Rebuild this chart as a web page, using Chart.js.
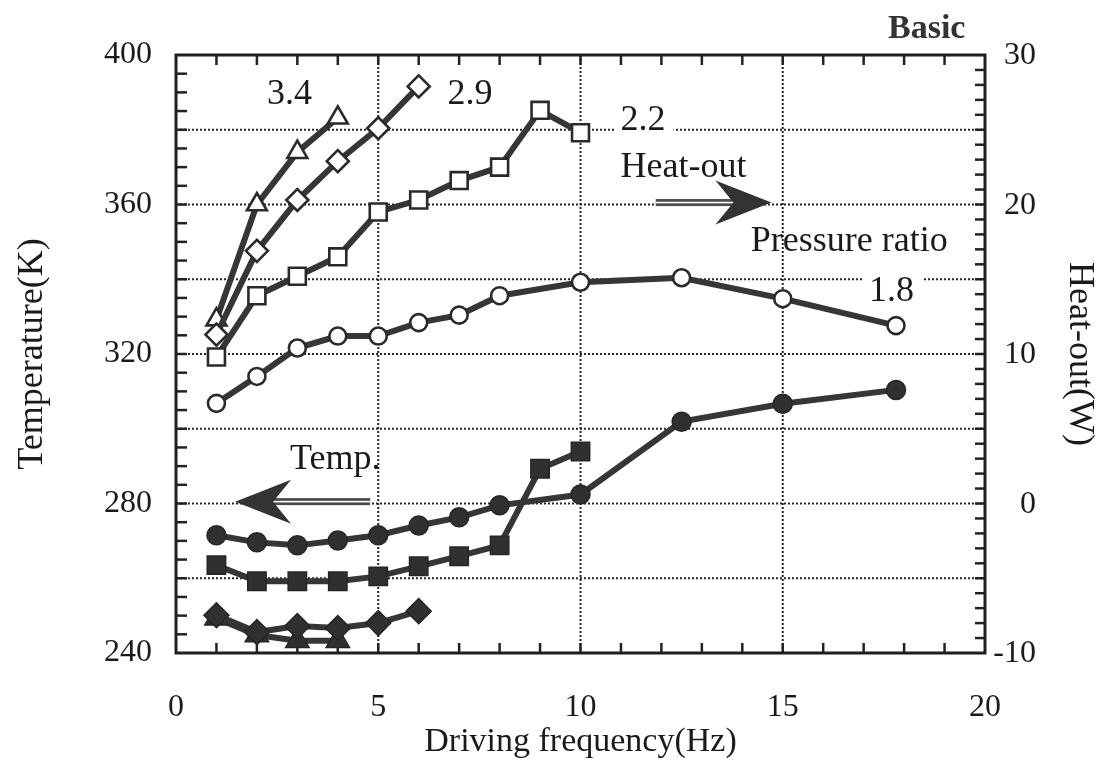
<!DOCTYPE html>
<html><head><meta charset="utf-8">
<script src="https://cdn.jsdelivr.net/npm/chart.js@4.4.1/dist/chart.umd.min.js"></script>
<style>html,body{margin:0;padding:0;background:#fff}#wrap{width:1104px;height:765px}</style>
</head><body><div id="wrap"><canvas id="c" width="1104" height="765"></canvas></div>
<script>
// ---- data ----
const freq18 = [1, 2, 3, 4, 5, 6, 7, 8, 10, 12.5, 15, 17.8];
const heat18 = [6.7, 8.5, 10.4, 11.2, 11.2, 12.1, 12.6, 13.9, 14.8, 15.1, 13.7, 11.9];
const temp18 = [271.5, 269.6, 268.8, 270.1, 271.5, 274.1, 276.3, 279.5, 282.4, 301.9, 306.7, 310.4];

const freq22 = [1, 2, 3, 4, 5, 6, 7, 8, 9, 10];
const heat22 = [9.8, 13.9, 15.2, 16.5, 19.5, 20.3, 21.6, 22.5, 26.3, 24.8];
const temp22 = [263.5, 259.2, 259.2, 259.2, 260.5, 263.2, 265.9, 268.8, 289.3, 293.9];

const freq29 = [1, 2, 3, 4, 5, 6];
const heat29 = [11.3, 16.9, 20.3, 22.9, 25.1, 27.9];
const temp29 = [250.1, 245.6, 247.2, 246.7, 248.0, 251.2];

const freq34 = [1, 2, 3, 4];
const heat34 = [12.3, 20.0, 23.5, 25.8];
const temp34 = [249.3, 244.8, 243.3, 243.3];

const xTicks = [0, 5, 10, 15, 20];
const tempTicks = [240, 280, 320, 360, 400];
const heatTicks = [-10, 0, 10, 20, 30];
const xGrid = [5, 10, 15];
const tempGrid = [260, 280, 300, 320, 340, 360, 380];

const SERIF = "'Liberation Serif','Times New Roman',serif";
const INK = '#1a1a1a';
const LINE = '#363636';
const FILL = '#303030';

function pts(xs, ys) { return xs.map((x, i) => ({ x: x, y: ys[i] })); }

function ds(xs, ys, axis, style, r, filled) {
  return {
    data: pts(xs, ys), yAxisID: axis, showLine: true, fill: false, tension: 0, clip: false,
    borderColor: LINE, borderWidth: 6,
    pointStyle: style, pointRadius: r, pointHoverRadius: r,
    pointBackgroundColor: filled ? FILL : '#ffffff',
    pointBorderColor: filled ? '#262626' : '#2a2a2a',
    pointBorderWidth: filled ? 1.5 : 2.6
  };
}

// annotation texts (positions in data units: frequency, axis value)
const notes = [
  { text: '3.4', f: 2.25, v: 26.7, axis: 'y2' },
  { text: '2.9', f: 6.71, v: 26.7, axis: 'y2' },
  { text: '2.2', f: 10.99, v: 25.0, axis: 'y2', blank: true },
  { text: 'Heat-out', f: 10.99, v: 21.87, axis: 'y2' },
  { text: 'Pressure ratio', f: 14.21, v: 16.87, axis: 'y2' },
  { text: '1.8', f: 17.13, v: 13.53, axis: 'y2', blank: true },
  { text: 'Temp.', f: 2.82, v: 289.3, axis: 'y' }
];
const arrows = [
  { tail: 11.86, tip: 14.72, v: 20.13, axis: 'y2' },
  { tail: 4.8, tip: 1.46, v: 280.5, axis: 'y' }
];

const framePlugin = {
  id: 'frame',
  beforeDatasetsDraw(chart) {
    const { ctx, chartArea: a, scales } = chart;
    const x = scales.x, yl = scales.y, yr = scales.y2;
    ctx.save();
    // dotted grid
    ctx.strokeStyle = '#262626'; ctx.lineWidth = 2; ctx.setLineDash([2, 2]);
    xGrid.forEach(v => { const p = x.getPixelForValue(v); ctx.beginPath(); ctx.moveTo(p, a.top); ctx.lineTo(p, a.bottom); ctx.stroke(); });
    tempGrid.forEach(v => { const p = yl.getPixelForValue(v); ctx.beginPath(); ctx.moveTo(a.left, p); ctx.lineTo(a.right, p); ctx.stroke(); });
    ctx.setLineDash([]);
    // white gaps behind some labels
    ctx.font = '36px ' + SERIF;
    notes.filter(n => n.blank).forEach(n => {
      const px = x.getPixelForValue(n.f), py = scales[n.axis].getPixelForValue(n.v);
      const w = ctx.measureText(n.text).width;
      ctx.fillStyle = '#fff';
      ctx.fillRect(px - 6, py - 28, w + 14, 36);
    });
    // inward ticks
    ctx.strokeStyle = '#222'; ctx.lineWidth = 2.5;
    for (let f = 1; f < 20; f++) {
      const p = x.getPixelForValue(f);
      ctx.beginPath(); ctx.moveTo(p, a.bottom); ctx.lineTo(p, a.bottom - 10); ctx.stroke();
      ctx.beginPath(); ctx.moveTo(p, a.top); ctx.lineTo(p, a.top + 10); ctx.stroke();
    }
    for (let t = 245; t < 400; t += 5) {
      const p = yl.getPixelForValue(t);
      ctx.beginPath(); ctx.moveTo(a.left, p); ctx.lineTo(a.left + 11, p); ctx.stroke();
    }
    for (let w = -9; w < 30; w++) {
      const p = yr.getPixelForValue(w);
      ctx.beginPath(); ctx.moveTo(a.right, p); ctx.lineTo(a.right - 10, p); ctx.stroke();
    }
    // frame
    ctx.lineWidth = 3; ctx.strokeStyle = '#1e1e1e';
    ctx.strokeRect(a.left, a.top, a.right - a.left, a.bottom - a.top);
    // right-hand tick labels, right aligned
    ctx.fillStyle = INK; ctx.font = '32px ' + SERIF; ctx.textAlign = 'right'; ctx.textBaseline = 'middle';
    heatTicks.forEach(v => ctx.fillText(String(v), a.right + 51, yr.getPixelForValue(v) + 1));
    ctx.restore();
  },
  afterDatasetsDraw(chart) {
    const { ctx, scales } = chart;
    const x = scales.x;
    ctx.save();
    ctx.fillStyle = INK; ctx.font = '36px ' + SERIF; ctx.textAlign = 'left'; ctx.textBaseline = 'alphabetic';
    notes.forEach(n => {
      ctx.fillText(n.text, x.getPixelForValue(n.f), scales[n.axis].getPixelForValue(n.v));
    });
    arrows.forEach(ar => {
      const tail = x.getPixelForValue(ar.tail), tip = x.getPixelForValue(ar.tip);
      const y = scales[ar.axis].getPixelForValue(ar.v);
      const dir = tip > tail ? 1 : -1;
      const notch = tip - dir * 38;
      // shaft (double line)
      ctx.fillStyle = '#4a4a4a';
      ctx.fillRect(Math.min(tail, notch), y - 3.5, Math.abs(notch - tail), 7);
      ctx.fillStyle = '#fff';
      ctx.fillRect(Math.min(tail, notch), y - 0.8, Math.abs(notch - tail), 1.6);
      // head
      ctx.fillStyle = '#333';
      ctx.beginPath();
      ctx.moveTo(tip, y);
      ctx.lineTo(tip - dir * 56, y - 22);
      ctx.lineTo(notch, y);
      ctx.lineTo(tip - dir * 56, y + 22);
      ctx.closePath(); ctx.fill();
    });
    ctx.font = 'bold 34px ' + SERIF; ctx.textAlign = 'left';
    ctx.fillText('Basic', 888, 38);
    ctx.restore();
  }
};

new Chart(document.getElementById('c'), {
  type: 'line',
  data: {
    datasets: [
      ds(freq18, heat18, 'y2', 'circle', 8.5, false),
      ds(freq22, heat22, 'y2', 'rect', 12, false),
      ds(freq29, heat29, 'y2', 'rectRot', 11, false),
      ds(freq34, heat34, 'y2', 'triangle', 11.5, false),
      ds(freq18, temp18, 'y', 'circle', 9.5, true),
      ds(freq22, temp22, 'y', 'rect', 13, true),
      ds(freq29, temp29, 'y', 'rectRot', 12.5, true),
      ds(freq34, temp34, 'y', 'triangle', 13.5, true)
    ]
  },
  options: {
    responsive: false, animation: false, devicePixelRatio: 1,
    layout: { padding: { top: 55, left: 0, right: 0, bottom: 0 } },
    plugins: { legend: { display: false }, tooltip: { enabled: false } },
    scales: {
      x: {
        type: 'linear', position: 'bottom', min: 0, max: 20,
        afterFit(s) { s.height = 112; },
        afterBuildTicks(s) { s.ticks = xTicks.map(v => ({ value: v })); },
        grid: { display: false, drawTicks: false }, border: { display: false },
        ticks: { font: { family: SERIF, size: 32 }, color: INK, padding: 35, maxRotation: 0, autoSkip: false },
        title: { display: true, text: 'Driving frequency(Hz)', font: { family: SERIF, size: 34 }, color: INK, padding: { top: 0, bottom: 3 } }
      },
      y: {
        type: 'linear', position: 'left', min: 240, max: 400,
        afterFit(s) { s.width = 176; },
        afterBuildTicks(s) { s.ticks = tempTicks.map(v => ({ value: v })); },
        grid: { display: false, drawTicks: false }, border: { display: false },
        ticks: { font: { family: SERIF, size: 32 }, color: INK, padding: 24, autoSkip: false },
        title: { display: true, text: 'Temperature(K)', font: { family: SERIF, size: 36 }, color: INK, padding: { top: 11, bottom: 0 } }
      },
      y2: {
        type: 'linear', position: 'right', min: -10, max: 30,
        afterFit(s) { s.width = 119; },
        afterBuildTicks(s) { s.ticks = heatTicks.map(v => ({ value: v })); },
        grid: { display: false, drawTicks: false }, border: { display: false },
        ticks: { display: false },
        title: { display: true, text: 'Heat-out(W)', font: { family: SERIF, size: 36 }, color: INK, padding: { top: 3, bottom: 0 } }
      }
    }
  },
  plugins: [framePlugin]
});
</script>
</body></html>
